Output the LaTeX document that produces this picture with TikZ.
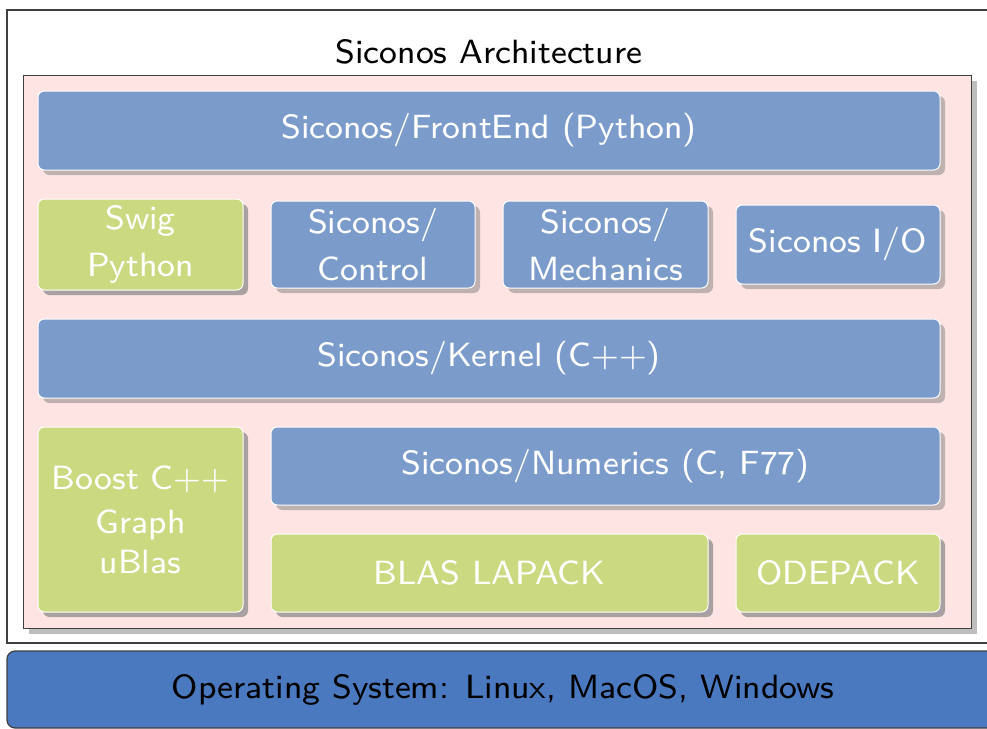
\documentclass[tikz,border=0pt]{standalone}
\usepackage{fontspec}
\newfontfamily\lmseight{lmsans8-regular.otf}
\usetikzlibrary{shadows}
\definecolor{boxblue}{HTML}{7B9CCB}
\definecolor{boxgreen}{HTML}{CBD980}
\definecolor{pinkbg}{HTML}{FFE4E4}
\definecolor{osblue}{HTML}{4A79C0}
\definecolor{shblue}{HTML}{C0B1B1}
\definecolor{shgreen}{HTML}{A9A1A1}
\definecolor{shpink}{HTML}{BEBEBE}
\definecolor{framegray}{HTML}{404040}
\begin{document}
\begin{tikzpicture}[x=0.5pt,y=-0.5pt,
  txt/.style={font=\lmseight\fontsize{16.8}{23.5}\selectfont},
  layer/.style={txt,text=white,draw=white,line width=0.5pt,rounded corners=3.2pt,
    inner sep=0pt,align=center,anchor=center},
  bluebox/.style={layer,fill=boxblue,
    drop shadow={shadow xshift=2.5pt,shadow yshift=-2.5pt,fill=shblue,opacity=1}},
  greenbox/.style={layer,fill=boxgreen,
    drop shadow={shadow xshift=2.5pt,shadow yshift=-2.5pt,fill=shgreen,opacity=1}}]
\useasboundingbox (0,0) rectangle (987,729);
\fill[white] (0,0) rectangle (987,729);
% outer frame
\draw[framegray,line width=0.6pt] (7,10) rectangle (1000,643);
% title
\node[txt,text=black,anchor=base] (title) at (489,63) {Siconos Architecture};
% pink area
\node[draw=framegray,fill=pinkbg,line width=0.5pt,inner sep=0pt,
  minimum width=474pt,minimum height=276.5pt,
  drop shadow={shadow xshift=3pt,shadow yshift=-3pt,fill=shpink,opacity=1}]
  (arch) at (497,351.5) {};
% boxes
\node[bluebox,minimum width=451pt,minimum height=39.5pt] (front) at (489,130.5) {Siconos/FrontEnd (Python)};
\node[greenbox,minimum width=102.5pt,minimum height=45.5pt] (swig) at (140.5,244.5) {Swig\\Python};
\node[bluebox,minimum width=102pt,minimum height=43.5pt] (control) at (373,244.5) {Siconos/\\Control};
\node[bluebox,minimum width=102.5pt,minimum height=43.5pt] (mech) at (605.5,244.5) {Siconos/\\Mechanics};
\node[bluebox,minimum width=102pt,minimum height=39.5pt] (io) at (838,244.5) {Siconos I/O};
\node[bluebox,minimum width=451pt,minimum height=39.5pt] (kernel) at (489,358.5) {Siconos/Kernel (C++)};
\node[greenbox,minimum width=102.5pt,minimum height=92.5pt,
  font=\lmseight\fontsize{16.8}{20}\selectfont] (boost) at (140.5,519.5) {Boost C++\\[2pt]Graph\\uBlas};
\node[bluebox,minimum width=334.5pt,minimum height=39pt] (numerics) at (605.5,466) {Siconos/Numerics (C, F77)};
\node[greenbox,minimum width=218.5pt,minimum height=39pt] (blas) at (489.5,573) {BLAS LAPACK};
\node[greenbox,minimum width=102pt,minimum height=39pt] (ode) at (838,573) {ODEPACK};
% operating system
\node[txt,text=black,draw=framegray,fill=osblue,line width=0.6pt,rounded corners=4pt,
  inner sep=0pt,minimum width=496pt,minimum height=38.5pt] (os) at (503,689.5)
  {Operating System: Linux, MacOS, Windows};
\end{tikzpicture}
\end{document}
